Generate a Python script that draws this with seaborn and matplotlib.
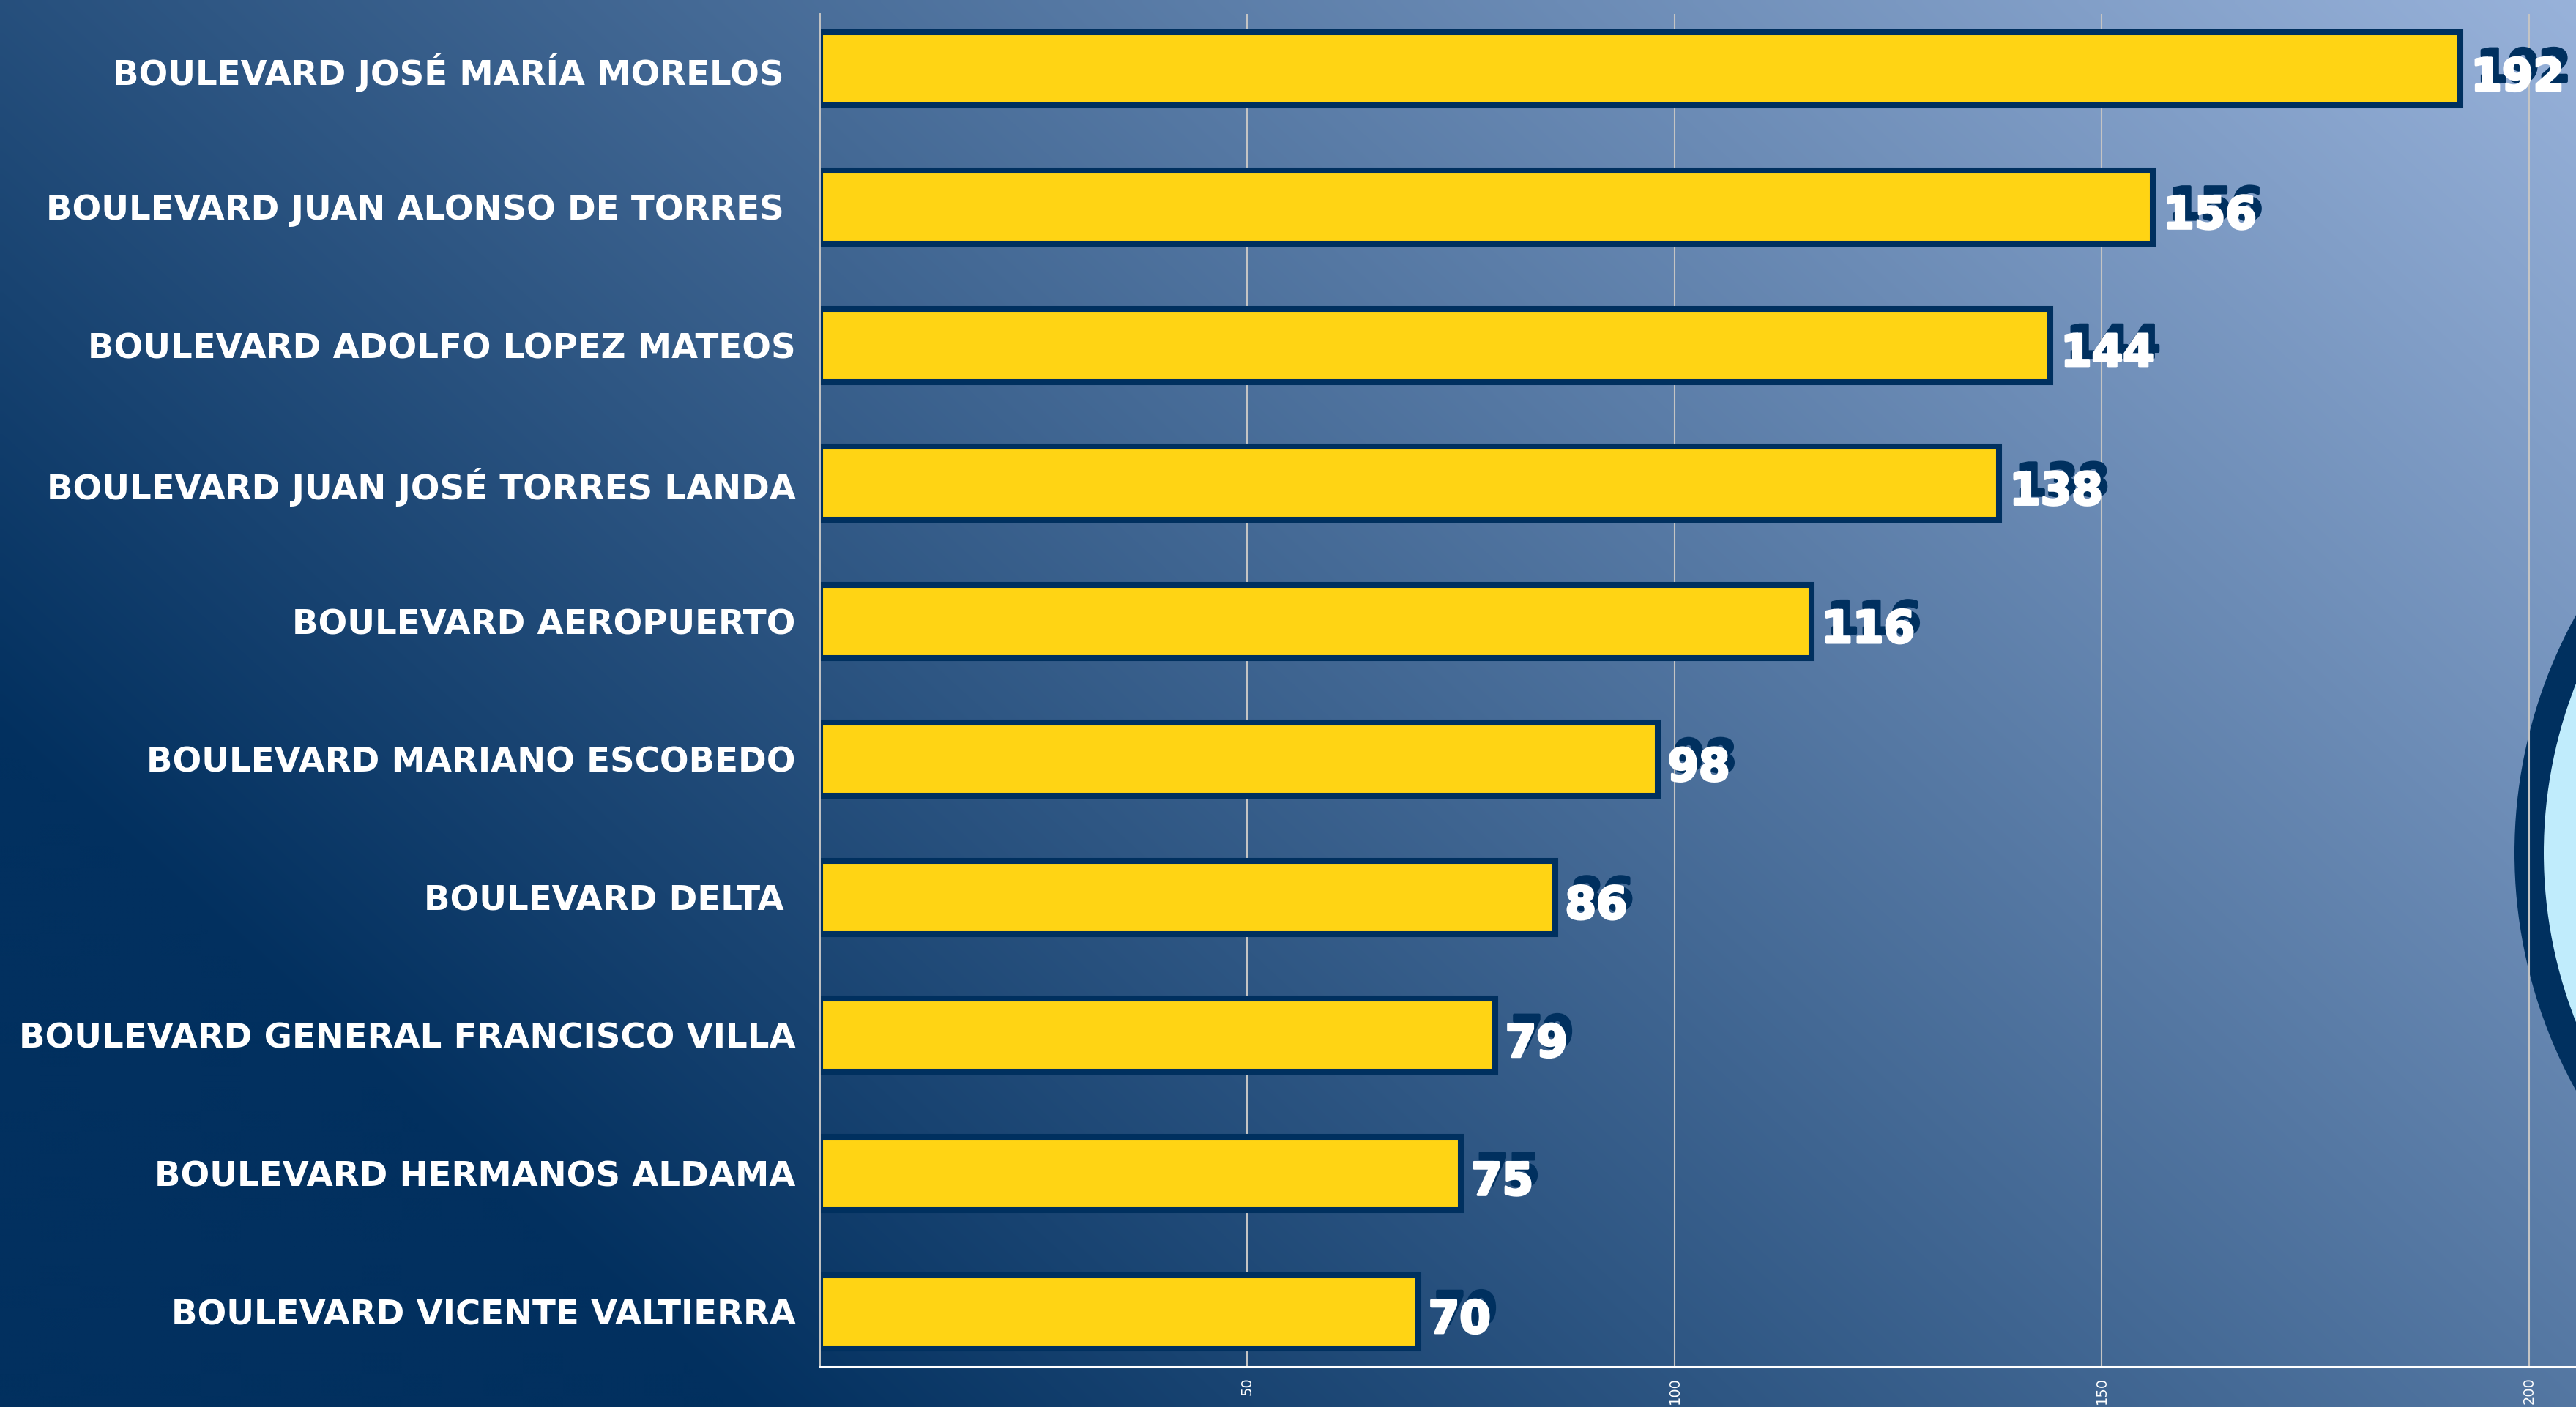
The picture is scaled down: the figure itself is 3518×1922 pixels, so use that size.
import numpy as np
import pandas as pd
import matplotlib
matplotlib.use("Agg")
import matplotlib.pyplot as plt
import matplotlib.patheffects as pe
from matplotlib.patches import Circle
import seaborn as sns

# ---------------- data ----------------
categories = [
    "BOULEVARD JOSÉ MARÍA MORELOS ",
    "BOULEVARD JUAN ALONSO DE TORRES ",
    "BOULEVARD ADOLFO LOPEZ MATEOS",
    "BOULEVARD JUAN JOSÉ TORRES LANDA",
    "BOULEVARD AEROPUERTO",
    "BOULEVARD MARIANO ESCOBEDO",
    "BOULEVARD DELTA ",
    "BOULEVARD GENERAL FRANCISCO VILLA",
    "BOULEVARD HERMANOS ALDAMA",
    "BOULEVARD VICENTE VALTIERRA",
]
values = [192, 156, 144, 138, 116, 98, 86, 79, 75, 70]
x_ticks = [50, 100, 150, 200]

df = pd.DataFrame({"calle": categories, "valor": values})

# ---------------- style ----------------
NAVY = "#00305f"
YELLOW = "#ffd414"
W, H = 3518, 1922
DPI = 200

fig = plt.figure(figsize=(W / DPI, H / DPI), dpi=DPI)

# background gradient + decorative circle
bg = fig.add_axes([0, 0, 1, 1], zorder=0)
nx, ny = 440, 240
px = np.linspace(0, W, nx)
py = np.linspace(H, 0, ny)
PX, PY = np.meshgrid(px, py)
t = np.clip((PX + 1.1 * PY - 1000) / (W + 1.1 * H - 1000), 0, 1)
c0 = np.array([2, 48, 95]) / 255
c1 = np.array([152, 178, 218]) / 255
img = c0 + t[..., None] * (c1 - c0)
bg.imshow(img, extent=[0, W, 0, H], aspect="auto", interpolation="bilinear", origin="upper")
bg.add_patch(Circle((4104, 757), 670, color=NAVY, lw=0))
bg.add_patch(Circle((4104, 757), 630, color="#c0ecfc", lw=0))
bg.set_xlim(0, W)
bg.set_ylim(0, H)
bg.axis("off")

# main axes
ax = fig.add_axes([1120 / W, 55 / H, 1 - 1120 / W, (1867 - 19) / H], zorder=1)
ax.patch.set_alpha(0)

sns.barplot(data=df, x="valor", y="calle", orient="h", color=YELLOW,
            edgecolor=NAVY, linewidth=2.9, width=0.53, saturation=1, ax=ax)

ax.set_xlim(0, 205.5)
ax.set_ylim(9.4, -0.4)
ax.set_xticks(x_ticks)
ax.set_xticklabels([str(x) for x in x_ticks])
ax.grid(axis="x", color="#c4c4c4", lw=0.75)
ax.grid(axis="y", visible=False)
ax.set_axisbelow(True)
ax.set_xlabel("")
ax.set_ylabel("")

for s in ["top", "right"]:
    ax.spines[s].set_visible(False)
ax.spines["left"].set_color("#c4c4c4")
ax.spines["left"].set_linewidth(0.7)
ax.spines["bottom"].set_color("white")
ax.spines["bottom"].set_linewidth(1.1)

ax.tick_params(axis="x", labelsize=7, labelcolor="white", length=0, pad=5,
               labelrotation=90)
ax.tick_params(axis="y", labelsize=16.8, labelcolor="white", length=0, pad=12)
for lab in ax.get_yticklabels():
    lab.set_family(["DejaVu Sans"])
    lab.set_fontweight("bold")

# value labels with shadow
for i, val in enumerate(values):
    ax.annotate(f"{val}", xy=(val, i), xytext=(5, -10.5), textcoords="offset points",
                ha="left", va="baseline", color="white", fontsize=22,
                fontweight="bold", family=["DejaVu Sans"],
                path_effects=[pe.SimplePatchShadow(offset=(3, 4.5),
                                                   shadow_rgbFace=NAVY, alpha=1.0,
                                                   linewidth=1.4, foreground=NAVY),
                              pe.Stroke(linewidth=1.2, foreground="white"),
                              pe.Normal()],
                annotation_clip=False, clip_on=False, zorder=5)

fig.savefig("out.png", dpi=DPI)
